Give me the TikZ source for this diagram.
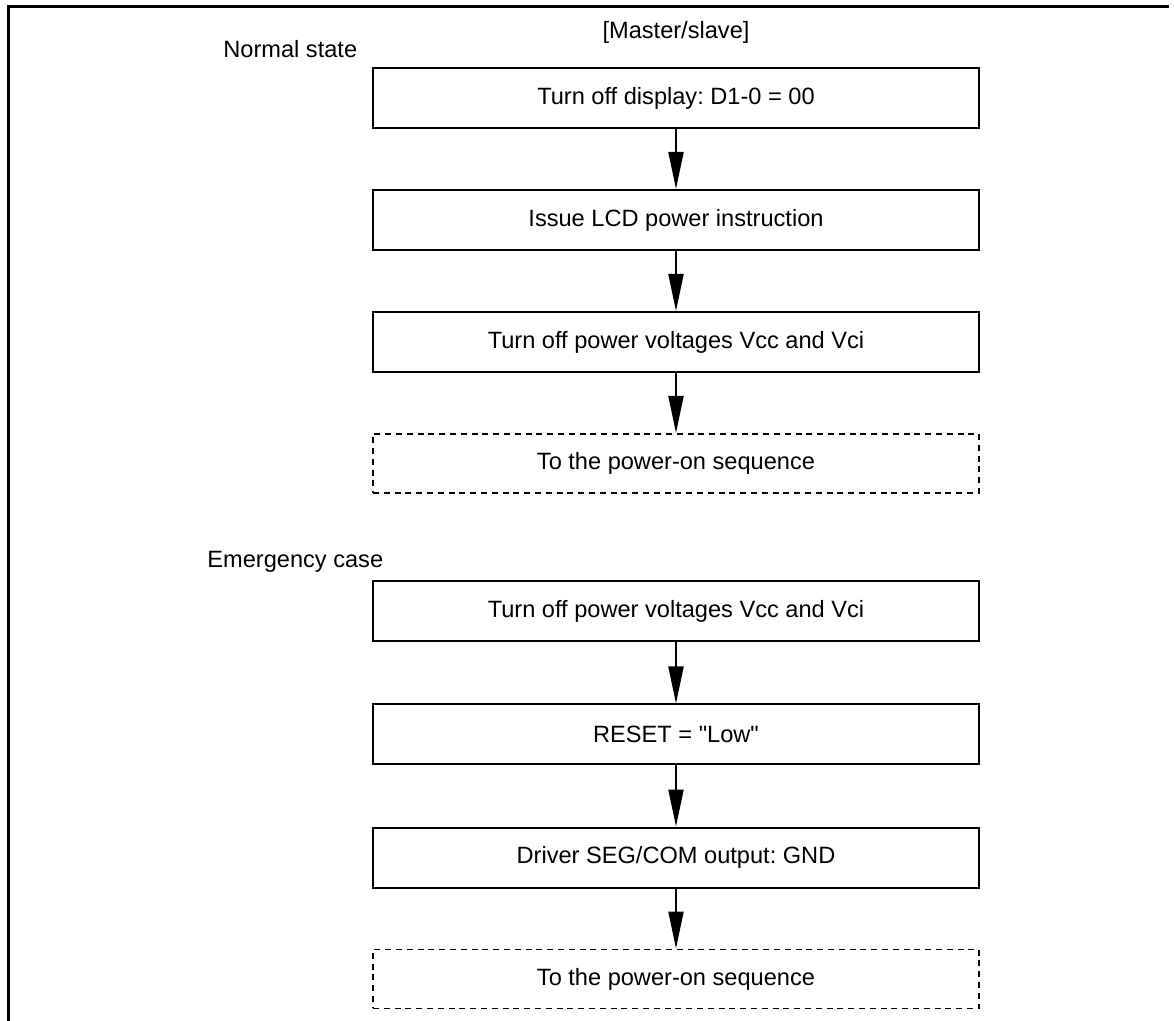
\documentclass[tikz,border=0pt]{standalone}
\usepackage{fontspec}
\setmainfont{Liberation Sans}
\usetikzlibrary{positioning}
\usetikzlibrary{arrows.meta}
\frenchspacing

\begin{document}
\begin{tikzpicture}[
    x=0.5pt, y=-0.5pt,
    stepbox/.style={rectangle, draw, line width=1pt, minimum width=303pt, minimum height=30pt, inner sep=0pt},
    nextbox/.style={rectangle, draw, line width=0.9pt, dash pattern=on 3pt off 2.4pt, minimum width=303pt, minimum height=29.5pt, inner sep=0pt},
    caption/.style={anchor=base west, inner sep=0pt},
    flow/.style={->, line width=1pt},
    >={Triangle[length=18.5pt, width=7.5pt]},
    node distance=30pt,
    every node/.style={font=\fontsize{11.8pt}{14pt}\selectfont}
]
    \useasboundingbox (0,0) rectangle (1174,1021);

    % Frame
    \draw[line width=1.5pt] (8,1021) -- (8,7) -- (1169,7);

    % Normal state
    \node[stepbox] (off) at (676,98) {Turn off display: D1-0 = 00};
    \node[stepbox, below=of off] (lcd) {Issue LCD power instruction};
    \node[stepbox, below=of lcd] (vcc) {Turn off power voltages Vcc and Vci};
    \node[nextbox, below=of vcc] (pon) {To the power-on sequence};

    % Emergency case
    \node[stepbox] (evcc) at (676,611.5) {Turn off power voltages Vcc and Vci};
    \node[stepbox, below=30.5pt of evcc] (rst) {RESET = \textquotedbl Low\textquotedbl};
    \node[stepbox, below=30.5pt of rst] (drv) {Driver SEG/COM output: GND};
    \node[nextbox, below=of drv] (epon) {To the power-on sequence};

    % Arrows
    \draw[flow] (off) -- (lcd);
    \draw[flow] (lcd) -- (vcc);
    \draw[flow] (vcc) -- (pon);
    \draw[flow] (evcc) -- (rst);
    \draw[flow] (rst) -- (drv);
    \draw[flow] (drv) -- (epon);

    % Labels
    \node[anchor=base, inner sep=0pt] (ms) at (676,39) {[Master/slave]};
    \node[caption] (normal) at (223,58) {Normal state};
    \node[caption] (emerg) at (207,568) {Emergency case};
\end{tikzpicture}
\end{document}
